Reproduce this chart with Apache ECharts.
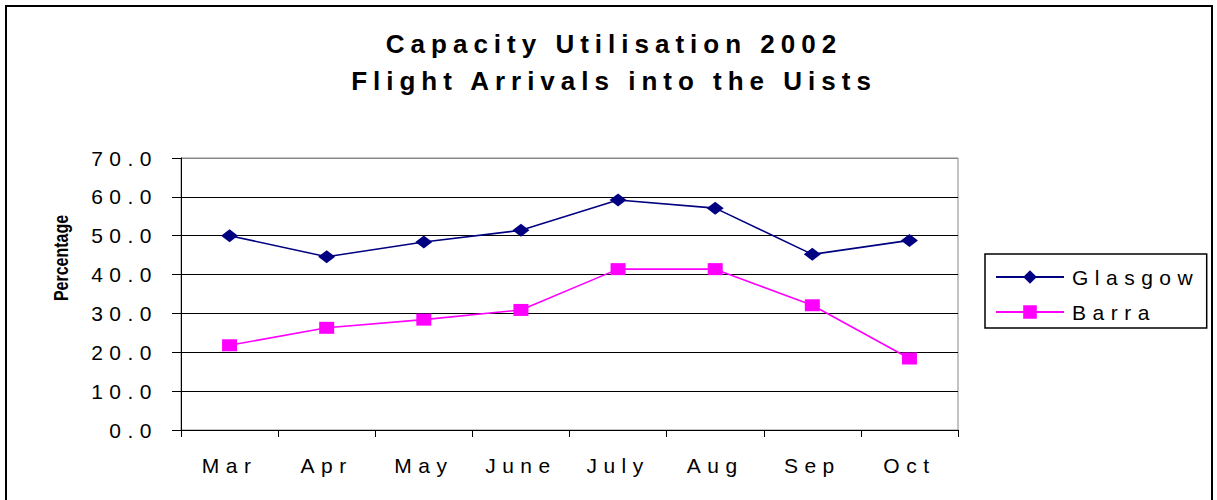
<!DOCTYPE html>
<html>
<head>
<meta charset="utf-8">
<script src="https://cdn.jsdelivr.net/npm/echarts@6/dist/echarts.min.js"></script>
<style>
    html, body { margin: 0; padding: 0; background: #fff; overflow: hidden; }
    #chart { width: 1217px; height: 500px; }
    /* the old Excel picture spaces its letters out widely */
    #chart svg text[style*="26px"] { letter-spacing: 6px; }
    #chart svg text[style*="21px"] { letter-spacing: 6.5px; }
</style>
</head>
<body>
<div id="chart"></div>
<script>
const months = ['Mar', 'Apr', 'May', 'June', 'July', 'Aug', 'Sep', 'Oct'];
const glasgow = [50.0, 44.6, 48.4, 51.4, 59.2, 57.1, 45.2, 48.8];
const barra = [21.8, 26.3, 28.4, 30.9, 41.4, 41.4, 32.1, 18.4];
const yTicks = [0, 10, 20, 30, 40, 50, 60, 70];

const font = "'Liberation Sans', Arial, sans-serif";

const chart = echarts.init(document.getElementById('chart'), null, {renderer: 'svg'});

const option = {
    animation: false,
    backgroundColor: '#fff',
    title: {
        text: 'Capacity Utilisation 2002\nFlight Arrivals into the Uists',
        left: 614,
        textAlign: 'center',
        top: 25,
        padding: 0,
        textStyle: {
            fontFamily: font,
            fontSize: 26,
            fontWeight: 'bold',
            color: '#000',
            lineHeight: 37,
        },
    },
    legend: {
        orient: 'vertical',
        left: 985,
        top: 254,
        padding: [11, 53, 4, 10],
        itemGap: 11,
        itemWidth: 68,
        itemHeight: 17,
        borderColor: '#000',
        borderWidth: 1.5,
        borderRadius: 0,
        textStyle: {
            fontFamily: font,
            fontSize: 21,
            color: '#000',
            lineHeight: 24,
            padding: [0, 0, 0, 3],
        },
        data: ['Glasgow', 'Barra'],
    },
    grid: {
        left: 181,
        right: 259,
        top: 158,
        bottom: 70,
        show: true,
        borderColor: '#888',
        borderWidth: 1,
        containLabel: false,
    },
    xAxis: {
        type: 'category',
        data: months,
        boundaryGap: true,
        axisLine: { lineStyle: { color: '#000', width: 1 } },
        axisTick: { show: true, length: 7, lineStyle: { color: '#000' } },
        axisLabel: {
            margin: 25,
            fontFamily: font,
            fontSize: 21,
            color: '#000',
            interval: 0,
        },
        splitLine: { show: false },
    },
    yAxis: {
        type: 'value',
        min: yTicks[0],
        max: yTicks[yTicks.length - 1],
        interval: 10,
        axisLine: { show: true, lineStyle: { color: '#000', width: 1 } },
        axisTick: { show: true, length: 9, lineStyle: { color: '#000' } },
        axisLabel: {
            margin: 23,
            fontFamily: font,
            fontSize: 21,
            color: '#000',
            formatter: v => v.toFixed(1),
        },
        splitLine: {
            show: true,
            lineStyle: {
                // last line sits on the grey plot border
                color: ['#000', '#000', '#000', '#000', '#000', '#000', '#000', '#888'],
                width: 1,
            },
        },
    },
    graphic: [
        {
            type: 'rect',
            silent: true,
            shape: { x: 6, y: 6, width: 1206, height: 510 },
            style: { fill: 'none', stroke: '#000', lineWidth: 2 },
        },
        {
            type: 'text',
            silent: true,
            x: 61,
            y: 258,
            rotation: Math.PI / 2,
            scaleY: 1.3,
            style: {
                text: 'Percentage',
                font: 'bold 16px ' + font,
                fill: '#000',
                align: 'center',
                verticalAlign: 'middle',
            },
        },
    ],
    series: [
        {
            name: 'Glasgow',
            type: 'line',
            data: glasgow,
            symbol: 'diamond',
            symbolSize: [17, 13],
            color: '#000080',
            lineStyle: { color: '#000080', width: 1.6 },
            itemStyle: { color: '#000080' },
            z: 3,
        },
        {
            name: 'Barra',
            type: 'line',
            data: barra,
            symbol: 'rect',
            symbolSize: [15, 12],
            color: '#ff00ff',
            lineStyle: { color: '#ff00ff', width: 1.6 },
            itemStyle: { color: '#ff00ff' },
            z: 2,
        },
    ],
};

chart.setOption(option);
</script>
</body>
</html>
